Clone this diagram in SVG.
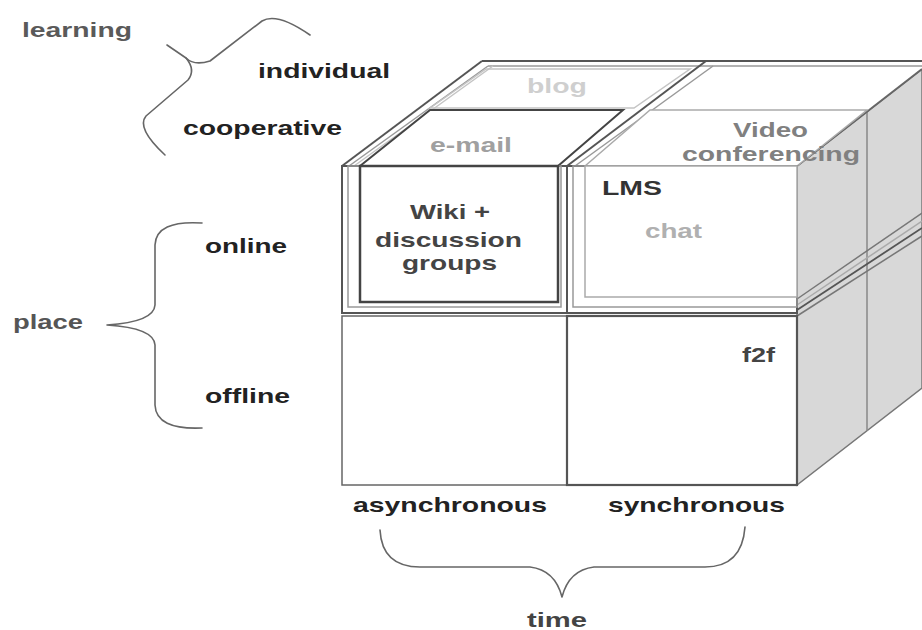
<svg xmlns="http://www.w3.org/2000/svg" width="922" height="630" viewBox="0 0 922 630">
<style>
.t{font-family:"Liberation Sans",Arial,sans-serif;font-weight:bold;font-size:21px;}
.lbl{fill:#222;}
.br{fill:none;stroke:#666;stroke-width:1.6;stroke-linecap:round;stroke-linejoin:round;}
.dk{fill:none;stroke:#555;stroke-width:2;}
.md{fill:none;stroke:#999;stroke-width:1.5;}
.lt{fill:none;stroke:#c4c4c4;stroke-width:1.5;}
</style>
<rect width="922" height="630" fill="#fff"/>

<g id="cube">
  <g id="side">
    <polygon points="797,166 922,69 922,388 797,485" fill="#d8d8d8" stroke="#777" stroke-width="1.5"/>
    <line x1="867" y1="111" x2="867" y2="431" stroke="#888" stroke-width="1.5"/>
    <line x1="797" y1="299" x2="922" y2="213" stroke="#777" stroke-width="1.5"/>
    <line x1="797" y1="305" x2="922" y2="221" stroke="#aaa" stroke-width="1.5"/>
    <line x1="797" y1="310" x2="922" y2="228" stroke="#555" stroke-width="1.8"/>
    <line x1="797" y1="316" x2="922" y2="236" stroke="#777" stroke-width="1.5"/>
  </g>
  <g id="top">
    <polygon points="342,166 482,62 922,62 922,69 797,166" fill="#fff"/>
    <line x1="482" y1="61" x2="922" y2="61" class="dk"/>
    <line x1="488" y1="66" x2="922" y2="66" class="md"/>
    <line x1="342" y1="166" x2="482" y2="61" class="dk"/>
    <line x1="349" y1="166" x2="488" y2="66" class="md"/>
    <line x1="354" y1="166" x2="493" y2="66" class="lt"/>
    <line x1="797" y1="166" x2="922" y2="69" stroke="#666" stroke-width="2"/>
    <line x1="567" y1="166" x2="706" y2="61" class="dk"/>
    <line x1="575" y1="166" x2="713" y2="66" class="md"/>
  </g>
  <g id="cell-blog">
    <polygon points="430,108 486,69 690,69 634,108" class="lt"/>
    <text x="527" y="93" class="t" fill="#cfcfcf" textLength="60" lengthAdjust="spacingAndGlyphs">blog</text>
  </g>
  <g id="cell-email">
    <polygon points="360,166 430,110 623,110 558,166" fill="#fff" stroke="#444" stroke-width="2"/>
    <text x="430" y="152" class="t" fill="#a0a0a0" textLength="82" lengthAdjust="spacingAndGlyphs">e-mail</text>
  </g>
  <g id="cell-video">
    <polygon points="585,166 650,110 867,110 797,166" fill="#fff" stroke="#aaa" stroke-width="1.5"/>
    <text x="733" y="137" class="t" fill="#808080" textLength="75" lengthAdjust="spacingAndGlyphs">Video</text>
    <text x="682" y="161" class="t" fill="#808080" textLength="178" lengthAdjust="spacingAndGlyphs">conferencing</text>
  </g>
  <g id="cell-wiki">
    <rect x="342" y="166" width="225" height="147" class="dk"/>
    <rect x="348" y="166" width="213" height="141" class="md"/>
    <rect x="360" y="166" width="198" height="136" fill="#fff" stroke="#444" stroke-width="2.5"/>
    <text x="410" y="219" class="t" fill="#444" textLength="80" lengthAdjust="spacingAndGlyphs">Wiki +</text>
    <text x="375" y="247" class="t" fill="#444" textLength="147" lengthAdjust="spacingAndGlyphs">discussion</text>
    <text x="402" y="270" class="t" fill="#444" textLength="95" lengthAdjust="spacingAndGlyphs">groups</text>
  </g>
  <g id="cell-lms">
    <rect x="567" y="166" width="230" height="147" class="dk"/>
    <rect x="573" y="166" width="224" height="141" class="md"/>
    <rect x="585" y="166" width="212" height="131" fill="#fff" stroke="#aaa" stroke-width="1.5"/>
    <text x="602" y="195" class="t" fill="#333" textLength="60" lengthAdjust="spacingAndGlyphs">LMS</text>
    <text x="645" y="238" class="t" fill="#b0b0b0" textLength="57" lengthAdjust="spacingAndGlyphs">chat</text>
  </g>
  <g id="cell-offline-async">
    <rect x="342" y="316" width="225" height="169" fill="#fff" stroke="#666" stroke-width="1.5"/>
  </g>
  <g id="cell-f2f">
    <rect x="567" y="316" width="230" height="169" fill="#fff" stroke="#555" stroke-width="2.2"/>
    <text x="742" y="362" class="t" fill="#444" textLength="33" lengthAdjust="spacingAndGlyphs">f2f</text>
  </g>
</g>

<g id="labels">
  <text x="22" y="37" class="t" fill="#5a5a5a" textLength="110" lengthAdjust="spacingAndGlyphs">learning</text>
  <text x="258" y="78" class="t lbl" textLength="132" lengthAdjust="spacingAndGlyphs">individual</text>
  <text x="183" y="135" class="t lbl" textLength="159" lengthAdjust="spacingAndGlyphs">cooperative</text>
  <text x="205" y="253" class="t lbl" textLength="82" lengthAdjust="spacingAndGlyphs">online</text>
  <text x="205" y="403" class="t lbl" textLength="85" lengthAdjust="spacingAndGlyphs">offline</text>
  <text x="13" y="329" class="t" fill="#555" textLength="70" lengthAdjust="spacingAndGlyphs">place</text>
  <text x="353" y="512" class="t lbl" textLength="194" lengthAdjust="spacingAndGlyphs">asynchronous</text>
  <text x="608" y="512" class="t lbl" textLength="177" lengthAdjust="spacingAndGlyphs">synchronous</text>
  <text x="527" y="627" class="t" fill="#444" textLength="60" lengthAdjust="spacingAndGlyphs">time</text>
</g>

<g id="connectors">
  <path class="br" d="M167,45 L186,58 Q194,66 210,61 L262,21 Q277,12 310,35"/>
  <path class="br" d="M186,58 Q196,70 188,80 L146,116 Q136,128 165,155"/>
  <path class="br" d="M202,223 Q156,220 155,245 L155,305 Q154,322 107,325 Q154,328 155,345 L155,405 Q156,430 202,428"/>
  <path class="br" d="M380,530 Q382,567 420,567 L530,567 Q555,570 562,597 Q569,570 594,567 L705,567 Q742,567 745,527"/>
</g>
</svg>
